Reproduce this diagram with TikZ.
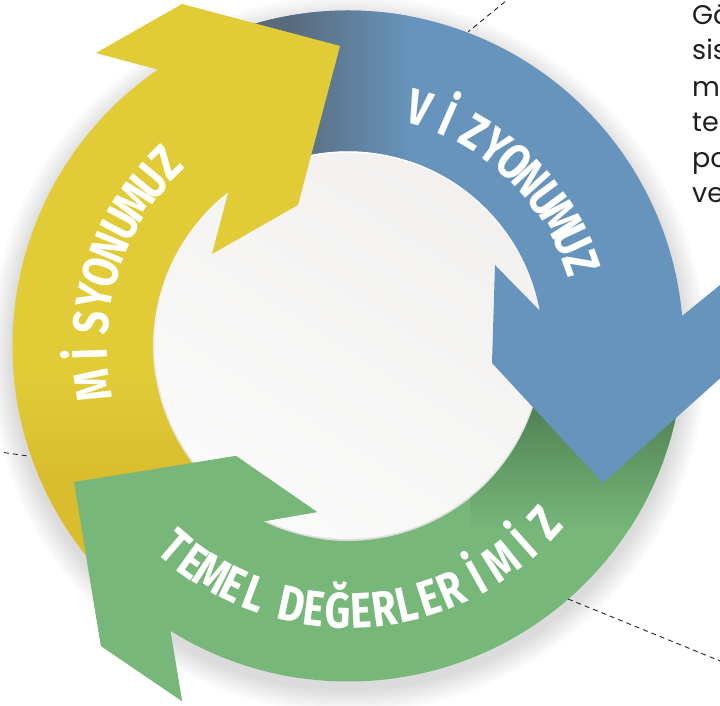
\documentclass[tikz,border=0pt]{standalone}
\usepackage{fontspec}
\usetikzlibrary{calc,shadings}
\newfontfamily\ringfam{Fira Sans}[FakeStretch=0.8]
\newfontfamily\sidefam{Poppins}
\newcommand\ringfont{\ringfam\bfseries\fontsize{50}{50}\selectfont}
\newcommand\rtsp{\kern-8pt}
\newcommand\Idot{\makebox[\fontcharwd\font`I][c]{İ}}
\definecolor{ringblue}{HTML}{6794BC}
\definecolor{ringbluedark}{HTML}{586B7C}
\definecolor{ringyellow}{HTML}{E1CB37}
\definecolor{ringyellowdark}{HTML}{D9BD2E}
\definecolor{ringgreen}{HTML}{77B77A}
\definecolor{ringgreendark}{HTML}{4E7F52}
\definecolor{rimgray}{HTML}{DEDCDC}
\definecolor{sidetextcol}{HTML}{1F1F1F}
\definecolor{diskA}{HTML}{F5F4F3}
\definecolor{diskB}{HTML}{F0EFEE}
\definecolor{diskC}{HTML}{FCFCFC}
\definecolor{diskD}{HTML}{F7F7F6}

% #1 letters, #2 first angle, #3 last angle, #4 radius, #5 rotation offset, #6 name prefix
\newcommand\ringtext[6]{%
  \gdef\rtSum{0}\gdef\rtN{0}\gdef\rtFirst{0}\gdef\rtLast{0}%
  \foreach \rtL in {#1}{%
    \setbox0=\hbox{\ringfont\rtL}%
    \pgfmathsetmacro\rtW{\the\wd0}%
    \xdef\rtLast{\rtW}%
    \pgfmathsetmacro\rtTmp{\rtSum+\rtW}\xdef\rtSum{\rtTmp}%
    \pgfmathtruncatemacro\rtTmp{\rtN+1}\xdef\rtN{\rtTmp}%
    \ifnum\rtN=1 \xdef\rtFirst{\rtW}\fi
  }%
  \pgfmathsetmacro\rtD{#4*(abs(#3-#2)/180*pi)}%
  \pgfmathsetmacro\rtT{(\rtD-(\rtSum-\rtFirst/2-\rtLast/2))/(\rtN-1)}%
  \xdef\rtT{\rtT}\xdef\rtD{\rtD}%
  \gdef\rtPos{0}\gdef\rtPrev{0}\gdef\rtIdx{0}%
  \foreach \rtL in {#1}{%
    \setbox0=\hbox{\ringfont\rtL}%
    \pgfmathsetmacro\rtW{\the\wd0}%
    \ifnum\rtIdx>0
      \pgfmathsetmacro\rtTmp{\rtPos+\rtPrev/2+\rtT+\rtW/2}\xdef\rtPos{\rtTmp}%
    \fi
    \xdef\rtPrev{\rtW}%
    \pgfmathtruncatemacro\rtTmp{\rtIdx+1}\xdef\rtIdx{\rtTmp}%
    \pgfmathsetmacro\rtA{#2+(#3-#2)*(\rtPos/\rtD)}%
    \pgfmathsetmacro\rtR{\rtA+#5}%
    \node[ringletter, rotate=\rtR] (#6\rtIdx) at ($(C)+(\rtA:#4)$) {\rtL};
  }%
}

\newcommand\bluepath{($(C)+(110:335.5)$) arc[start angle=110, end angle=5.13, radius=335.5]
  -- (731,430) -- (725,332) -- (603,223) -- (492,343) -- (495,441)
  -- ($(C)+(10.4:195)$) arc[start angle=10.4, end angle=110, radius=195] -- cycle}
\newcommand\yellowpath{($(C)+(219:335.5)$) arc[start angle=219, end angle=124.54, radius=335.5]
  -- (96,653) -- (182,702) -- (340,660) -- (298,501) -- (212,452)
  -- ($(C)+(127.87:195)$) arc[start angle=127.87, end angle=219, radius=195] -- cycle}
\newcommand\greenpath{($(C)+(0:335.5)$) arc[start angle=360, end angle=238, radius=335.5]
  -- (182,5) -- (101,60) -- (74,224) -- (236,250) -- (317,194)
  -- ($(C)+(244.1:195)$) arc[start angle=244.1, end angle=360, radius=195] -- cycle}
\newcommand\greenheadpath{($(C)+(262:335.5)$) arc[start angle=262, end angle=238, radius=335.5]
  -- (182,5) -- (101,60) -- (74,224) -- (236,250) -- (317,194)
  -- ($(C)+(244.1:195)$) arc[start angle=244.1, end angle=262, radius=195] -- cycle}

\begin{document}
\begin{tikzpicture}[x=1pt,y=1pt,
  ringletter/.style={font=\ringfont, text=white, inner sep=0pt, text height=34.4pt, text depth=0pt, anchor=center},
  leader/.style={draw=black!85, dash pattern=on 5pt off 4pt, line width=0.9pt},
  sidetext/.style={font=\sidefam\fontsize{27}{27}\selectfont, text=sidetextcol, inner sep=0pt, anchor=base west}]
\useasboundingbox (0,0) rectangle (720,706);
\fill[white] (0,0) rectangle (720,706);
\coordinate (C) at (348,360);
% soft shadow
\foreach \i in {0,...,11}{
  \fill[black, opacity=0.011] ($(C)+(0,-8)$) circle ({337+2*\i});
}
% inner disk
\shade[top color=white, bottom color=rimgray] (C) circle (195);
\shade[upper left=diskA, upper right=diskB, lower left=diskC, lower right=diskD] (C) circle (193);
% green
\fill[ringgreen] \greenpath;
\begin{scope}
  \clip \greenpath;
  \fill[ringgreendark] (470,306) rectangle (720,400);
  \shade[top color=ringgreendark, bottom color=ringgreen] (470,176) rectangle (720,306);
\end{scope}
% blue
\fill[ringblue] \bluepath;
\begin{scope}
  \clip \bluepath;
  \fill[ringbluedark] (200,440) rectangle (292,706);
  \shade[left color=ringbluedark, right color=ringblue] (290,440) rectangle (410,706);
\end{scope}
% yellow
\fill[ringyellow] \yellowpath;
\begin{scope}
  \clip \yellowpath;
  \fill[ringyellowdark] (0,0) rectangle (270,231);
  \shade[top color=ringyellow, bottom color=ringyellowdark] (0,230) rectangle (270,330);
\end{scope}
% green head on top of yellow start
\fill[ringgreen] \greenheadpath;
% ring texts
\ringtext{V,\Idot,Z,Y,O,N,U,M,U,Z}{73.4}{19.5}{248}{-90}{viz}
\ringtext{M,\Idot,S,Y,O,N,U,M,U,Z}{188.8}{134.7}{258}{-90}{mis}
\ringtext{T,E,M,E,L,\rtsp,D,E,Ğ,E,R,L,E,R,\Idot,M,\Idot,Z}{229.3}{318.05}{265}{90}{tem}
% dashed leader lines
\coordinate (d1a) at (512,710);
\coordinate (d1b) at (468.3,674.3);
\coordinate (d2a) at (-5,254.7);
\coordinate (d2b) at (28,250);
\coordinate (d3a) at (568,107);
\coordinate (d3b) at (730,41);
\draw[leader] (d1a) -- (d1b);
\draw[leader] (d2a) -- (d2b);
\draw[leader] (d3a) -- (d3b);
% side text
\node[sidetext] (s1) at (692,681) {Gö};
\node[sidetext] (s2) at (692,646) {sis};
\node[sidetext] (s3) at (692,609) {mo};
\node[sidetext] (s4) at (692,574) {te};
\node[sidetext] (s5) at (692,538) {po};
\node[sidetext] (s6) at (692,503) {ve};
\end{tikzpicture}
\end{document}
